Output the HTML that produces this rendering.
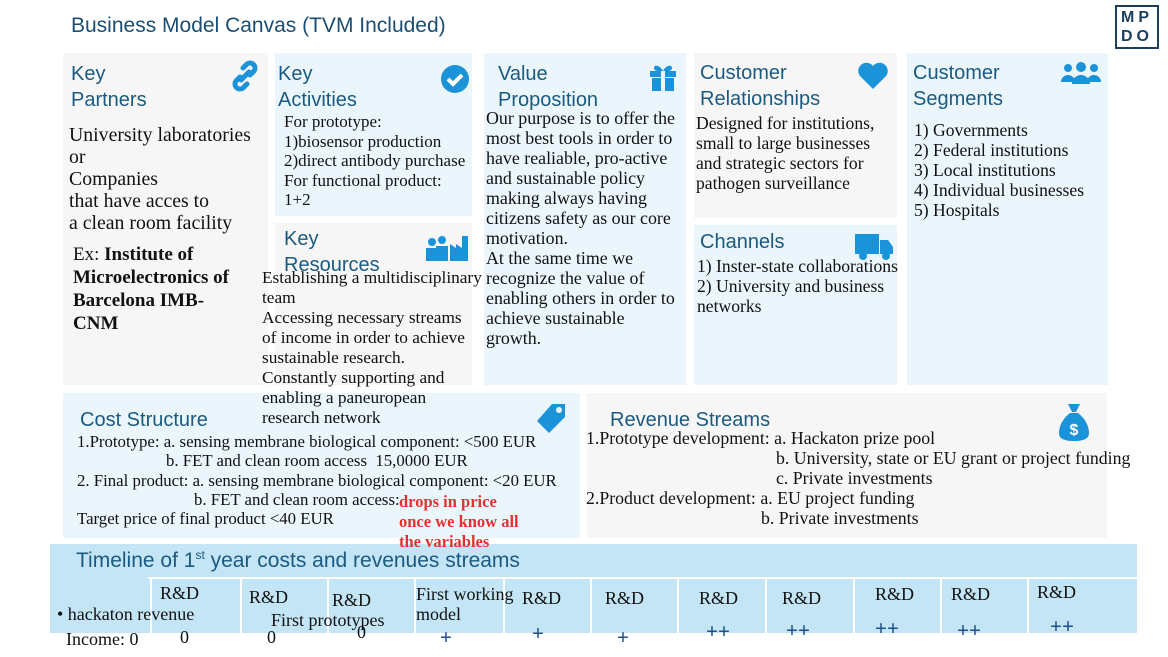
<!DOCTYPE html>
<html><head><meta charset="utf-8"><style>
*{margin:0;padding:0;box-sizing:border-box}
body{width:1168px;height:657px;background:#fff;position:relative;overflow:hidden;font-family:"Liberation Serif",serif;color:#111}
.a{position:absolute;z-index:2}
.box{position:absolute;z-index:0}
.g{background:#f6f6f6}.b{background:#eaf6fc}
.h{position:absolute;z-index:1;font-family:"Liberation Sans",sans-serif;font-size:20px;line-height:26px;color:#1b5a80}
.t{position:absolute;z-index:2;font-size:17.6px;line-height:20px;white-space:nowrap}
.t span{display:block}
.ic{position:absolute;z-index:1;color:#1a93d8}
.tl{position:absolute;z-index:2;font-size:18px;white-space:nowrap}
</style></head><body>
<div class="a" style="left:71px;top:14px;font-family:'Liberation Sans',sans-serif;font-size:21px;color:#1b4e72">Business Model Canvas (TVM Included)</div>
<div class="a" style="left:1115px;top:5px;width:44px;height:44px;border:2px solid #1b3d5e;font-family:'Liberation Sans',sans-serif;font-weight:bold;font-size:16px;color:#1b3d5e;line-height:19px;text-align:center;letter-spacing:4px;padding-top:1px">MP<br>DO</div>

<div class="box g" style="left:63px;top:53px;width:205px;height:332px"></div>
<div class="h" style="left:71px;top:61px">Key<br>Partners</div>
<svg class="ic" style="left:229px;top:60px" width="32" height="32" viewBox="0 0 32 32"><g fill="none" stroke="#1a93d8" stroke-width="5" stroke-linecap="round"><path d="M14 8l4-4a5 5 0 017 7l-4 4"/><path d="M18 24l-4 4a5 5 0 01-7-7l4-4"/><path d="M12 20l8-8"/></g></svg>
<div class="t" style="left:69px;top:124px;font-size:19.8px;line-height:22px">University laboratories<br>or<br>Companies<br>that have acces to<br>a clean room facility</div>
<div class="t" style="left:73px;top:243px;font-size:19px;line-height:23px">Ex: <b>Institute of<br>Microelectronics of<br>Barcelona IMB-<br>CNM</b></div>

<div class="box b" style="left:275px;top:53px;width:197px;height:163px"></div>
<div class="h" style="left:278px;top:61px">Key<br>Activities</div>
<svg class="ic" style="left:440px;top:64px" width="30" height="30" viewBox="0 0 30 30"><circle cx="15" cy="15" r="14" fill="#1a93d8"/><path d="M8 15l5 5 9-9" stroke="#fff" stroke-width="4" fill="none"/></svg>
<div class="t" style="left:284px;top:112px;font-size:17px;line-height:19.5px">For prototype:<br>1)biosensor production<br>2)direct antibody purchase<br>For functional product:<br>1+2</div>

<div class="box g" style="left:275px;top:223px;width:197px;height:162px"></div>
<div class="h" style="left:284px;top:226px">Key<br>Resources</div>
<svg class="ic" style="left:424px;top:230px" width="46" height="32" viewBox="0 0 46 32"><g fill="#1a93d8"><circle cx="8" cy="12" r="4"/><rect x="2" y="18" width="12" height="13"/><circle cx="18" cy="10" r="4"/><rect x="12" y="16" width="12" height="15"/><path d="M26 31V14l6 4v-4l6 4V6h6v25z"/></g></svg>
<div class="t" style="left:262px;top:268px;font-size:17.3px">Establishing a multidisciplinary<br>team<br>Accessing necessary streams<br>of income in order to achieve<br>sustainable research.<br>Constantly supporting and<br>enabling a paneuropean<br>research network</div>

<div class="box b" style="left:484px;top:53px;width:202px;height:332px"></div>
<div class="h" style="left:498px;top:61px">Value<br>Proposition</div>
<svg class="ic" style="left:648px;top:62px" width="30" height="30" viewBox="0 0 30 30"><g fill="#1a93d8"><rect x="2" y="9" width="26" height="6"/><rect x="4" y="16" width="22" height="13"/><path d="M15 9c-3-6-9-7-9-3s6 3 9 3zm0 0c3-6 9-7 9-3s-6 3-9 3z"/></g><rect x="13" y="9" width="4" height="20" fill="#eaf6fc"/></svg>
<div class="t" style="left:486px;top:108px;font-size:17.9px">Our purpose is to offer the<br>most best tools in order to<br>have realiable, pro-active<br>and sustainable policy<br>making always having<br>citizens safety as our core<br>motivation.<br>At the same time we<br>recognize the value of<br>enabling others in order to<br>achieve sustainable<br>growth.</div>

<div class="box g" style="left:694px;top:53px;width:203px;height:165px"></div>
<div class="h" style="left:700px;top:60px">Customer<br>Relationships</div>
<svg class="ic" style="left:857px;top:62px" width="32" height="28" viewBox="0 0 32 28"><path d="M16 27L3 14A8 8 0 0116 4a8 8 0 0113 10z" fill="#1a93d8"/></svg>
<div class="t" style="left:696px;top:113px">Designed for institutions,<br>small to large businesses<br>and strategic sectors for<br>pathogen surveillance</div>

<div class="box b" style="left:694px;top:225px;width:203px;height:160px"></div>
<div class="h" style="left:700px;top:229px">Channels</div>
<svg class="ic" style="left:854px;top:232px" width="40" height="30" viewBox="0 0 40 30"><g fill="#1a93d8"><rect x="1" y="2" width="24" height="20"/><path d="M26 8h8l5 7v7H26z"/><circle cx="9" cy="24" r="4"/><circle cx="32" cy="24" r="4"/></g></svg>
<div class="t" style="left:697px;top:256px">1) Inster-state collaborations<br>2) University and business<br>networks</div>

<div class="box b" style="left:907px;top:53px;width:201px;height:332px"></div>
<div class="h" style="left:913px;top:60px">Customer<br>Segments</div>
<svg class="ic" style="left:1060px;top:62px" width="42" height="22" viewBox="0 0 42 22"><g fill="#1a93d8"><circle cx="8" cy="6" r="4"/><circle cx="34" cy="6" r="4"/><circle cx="21" cy="5" r="5"/><path d="M1 20a7 7 0 0114 0zM27 20a7 7 0 0114 0zM12 22a9 9 0 0118 0z"/></g></svg>
<div class="t" style="left:914px;top:120px">1) Governments<br>2) Federal institutions<br>3) Local institutions<br>4) Individual businesses<br>5) Hospitals</div>

<div class="box b" style="left:63px;top:393px;width:517px;height:145px"></div>
<div class="h" style="left:80px;top:407px">Cost Structure</div>
<svg class="ic" style="left:534px;top:402px" width="34" height="34" viewBox="0 0 34 34"><path d="M18 2h13v13L15 31 3 19z" fill="#1a93d8"/><circle cx="25" cy="8" r="3" fill="#eaf6fc"/></svg>
<div class="t" style="left:77px;top:432px;font-size:16.8px;line-height:19.3px"><span>1.Prototype: a. sensing membrane biological component: &lt;500 EUR</span><span style="margin-left:89px">b. FET and clean room access&nbsp; 15,0000 EUR</span><span>2. Final product: a. sensing membrane biological component: &lt;20 EUR</span><span style="margin-left:117px">b. FET and clean room access:</span><span>Target price of final product &lt;40 EUR</span></div>
<div class="t" style="left:399px;top:492px;color:#e53030;font-weight:bold;font-size:16.5px;line-height:20px">drops in price<br>once we know all<br>the variables</div>

<div class="box g" style="left:587px;top:393px;width:520px;height:145px"></div>
<div class="h" style="left:610px;top:407px">Revenue Streams</div>
<svg class="ic" style="left:1058px;top:402px" width="32" height="40" viewBox="0 0 32 40"><path d="M10 2h12l-4 8h-4zM12 11h8c8 6 11 14 11 20 0 5-4 8-15 8S1 36 1 31c0-6 3-14 11-20z" fill="#1a93d8"/><text x="16" y="33" font-family="Liberation Sans" font-weight="bold" font-size="16" fill="#fff" text-anchor="middle">$</text></svg>
<div class="t" style="left:586px;top:428px;font-size:17.8px;line-height:20px"><span>1.Prototype development: a. Hackaton prize pool</span><span style="margin-left:190px">b. University, state or EU grant or project funding</span><span style="margin-left:190px">c. Private investments</span><span>2.Product development: a. EU project funding</span><span style="margin-left:175px">b. Private investments</span></div>

<div class="box" style="left:50px;top:544px;width:1087px;height:89px;background:#c3e5f6"></div>
<div class="a" style="left:76px;top:548px;font-family:'Liberation Sans',sans-serif;font-size:21px;color:#1b5a80">Timeline of 1<sup style="font-size:12px">st</sup> year costs and revenues streams</div>
<div class="a" style="left:148px;top:577px;width:989px;height:2px;background:#fff"></div>
<div id="cols"></div>
<div class="tl" style="left:57px;top:604px">• hackaton revenue</div>
<div class="tl" style="left:271px;top:610px">First prototypes</div>
<div class="tl" style="left:416px;top:584px;line-height:20px">First working<br>model</div>
<div class="tl" style="left:66px;top:629px">Income: 0</div>
<script>
const seps=[150,240,327,414,503,590,677,765,853,940,1027];
const rdX=[160,249,332,522,605,699,782,875,951,1037];
const rdY=[583,587,590,588,588,588,588,584,584,582];
const incX=[180,267,357,440,532,617,706,786,875,957,1050];
const incLabels=["0","0","0","+","+","+","++","++","++","++","++"];
const incY=[627,627,622,625,621,625,619,618,616,618,614];
const root=document.getElementById('cols');
seps.forEach(x=>{const d=document.createElement('div');


d.style.cssText=`position:absolute;z-index:1;left:${x}px;top:578px;width:2px;height:55px;background:#fff`;root.appendChild(d);});
rdX.forEach((x,i)=>{const d=document.createElement('div');


d.className='tl';d.style.left=x+'px';d.style.top=rdY[i]+'px';d.textContent='R&D';root.appendChild(d);});
incX.forEach((x,i)=>{const d=document.createElement('div');


d.className='tl';d.style.left=x+'px';d.style.top=incY[i]+'px';d.textContent=incLabels[i];
if(i>=3){d.style.color='#1f4f8a';d.style.fontSize='21px';d.style.fontWeight='bold';}
root.appendChild(d);});
</script>
</body></html>
